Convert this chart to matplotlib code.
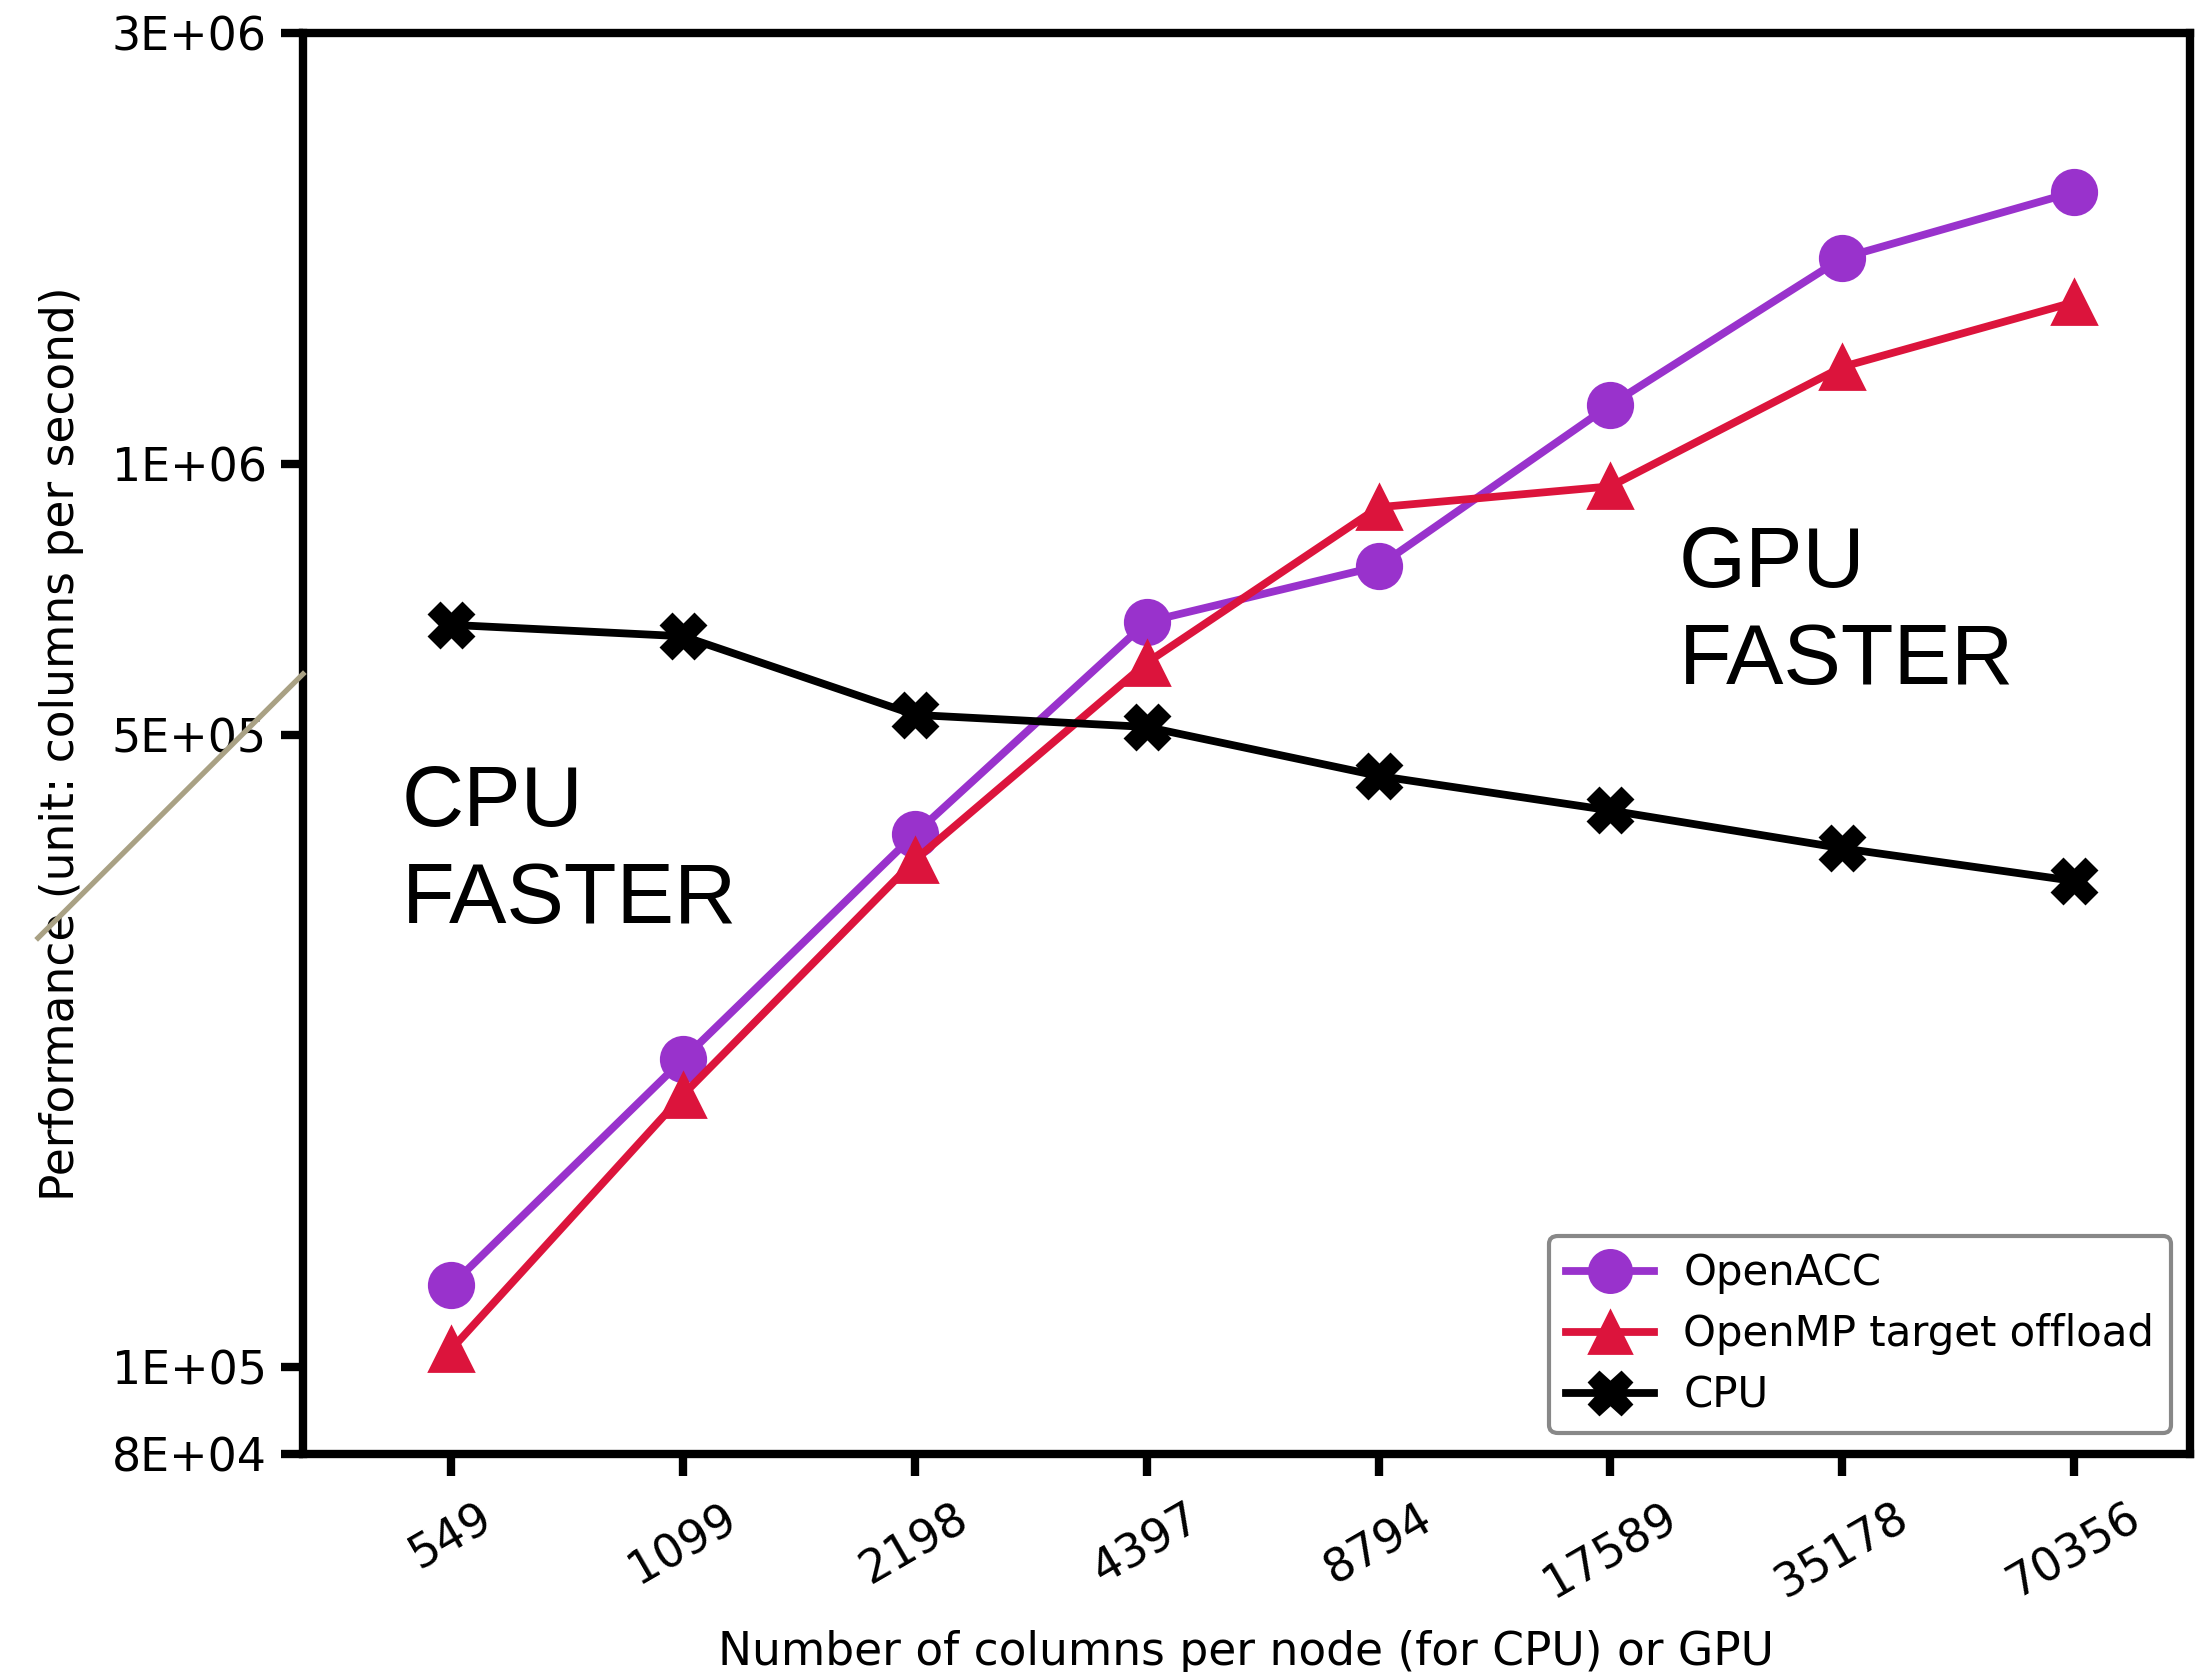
import matplotlib
matplotlib.use("Agg")
import matplotlib.pyplot as plt
from matplotlib.lines import Line2D
from matplotlib.ticker import NullLocator

categories = ["549", "1099", "2198", "4397", "8794", "17589", "35178", "70356"]
openacc = [123000, 219000, 389000, 668000, 770000, 1162000, 1690000, 2000000]
openmp = [104500, 200000, 364000, 602000, 895000, 944000, 1280000, 1510000]
cpu = [663000, 644000, 527000, 511000, 451000, 413000, 375000, 345000]
ytick_vals = [8e4, 1e5, 5e5, 1e6, 3e6]
ytick_labels = ["8E+04", "1E+05", "5E+05", "1E+06", "3E+06"]

W, H = 2197, 1672
fig = plt.figure(figsize=(W / 200, H / 200), dpi=200)
ax = fig.add_axes([303 / W, 1 - 1454 / H, (2190 - 303) / W, (1454 - 33) / H])

x = list(range(len(categories)))
ax.plot(x, openacc, color="#9932CC", lw=2.8, marker="o", ms=16, label="OpenACC")
ax.plot(x, openmp, color="#DC143C", lw=2.8, marker="^", ms=16, label="OpenMP target offload")
ax.plot(x, cpu, color="black", lw=2.8, marker="X", ms=16, label="CPU")

ax.set_yscale("log")
ax.set_ylim(8e4, 3e6)
ax.set_xlim(-0.64, 7.5)
ax.set_yticks(ytick_vals)
ax.set_yticklabels(ytick_labels)
ax.yaxis.set_minor_locator(NullLocator())
ax.set_xticks(x)
ax.set_xticklabels(categories, rotation=30, ha="center")

for s in ax.spines.values():
    s.set_linewidth(3)
ax.tick_params(axis="both", which="major", length=8, width=3, labelsize=16.5, pad=5)
ax.tick_params(axis="x", pad=7)

ax.set_xlabel("Number of columns per node (for CPU) or GPU", fontsize=16.4, labelpad=8)
ax.set_ylabel("Performance (unit: columns per second)", fontsize=16.4, labelpad=10)

leg = ax.legend(loc="lower right", bbox_to_anchor=(0.990, 0.0148), borderaxespad=0,
                fontsize=15.1, handlelength=2.1, handletextpad=0.7, markerscale=0.95,
                framealpha=1, edgecolor="#888888", fancybox=True, borderpad=0.4,
                labelspacing=0.45)
leg.get_frame().set_linewidth(1.5)

fig.text(402 / W, 1 - 923 / H, "CPU\nFASTER", fontsize=31, family="Liberation Sans",
         ha="left", va="baseline", linespacing=1.27)
fig.text(1679 / W, 1 - 684 / H, "GPU\nFASTER", fontsize=31, family="Liberation Sans",
         ha="left", va="baseline", linespacing=1.27)

fig.add_artist(Line2D([38 / W, 303 / W], [1 - 938 / H, 1 - 674 / H],
                      transform=fig.transFigure, color="#A9A184", lw=1.9))

fig.savefig("out.png", dpi=200)
